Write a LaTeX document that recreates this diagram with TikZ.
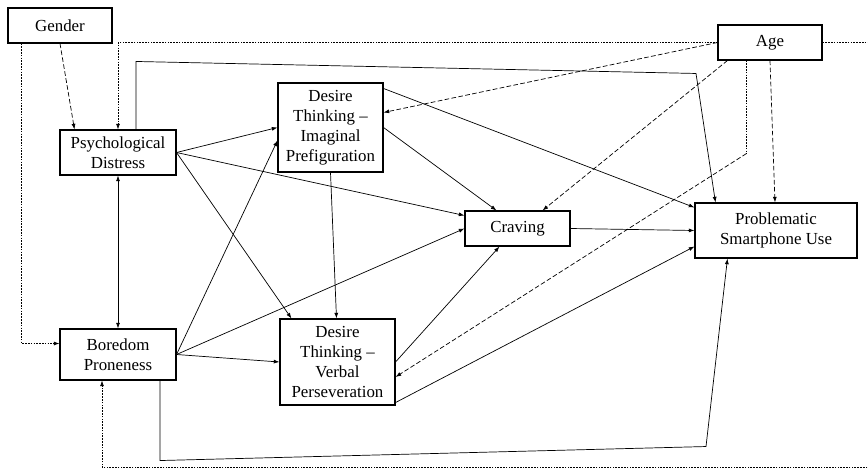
\documentclass[tikz,border=0pt]{standalone}
\usepackage{fontspec}
\setmainfont{Liberation Serif}
\usepackage{tikz}
\usetikzlibrary{arrows.meta,positioning,calc}

\tikzset{
  box/.style={draw, line width=0.9pt, align=center, inner sep=1pt,
    font=\fontsize{14.4}{17}\selectfont},
  conn/.style={-{Latex[length=1.7mm,width=1.2mm]}, line width=0.6pt},
  dconn/.style={conn, dash pattern=on 4pt off 2pt},
  tconn/.style={conn, dash pattern=on 1.4pt off 1pt},
}

\begin{document}
\begin{tikzpicture}[x=0.03cm,y=-0.03cm]
            \useasboundingbox (0,0) rectangle (868,475);
            \clip (0,0) rectangle (868,475);

            % Covariates
            \node[box, minimum width=3.12cm, minimum height=1.05cm] (gender) at (60,25.5) {Gender};
            \node[box, minimum width=3.12cm, minimum height=1.05cm] (age) at (770,42.5) {Age};

            % Predictors
            \node[box, minimum width=3.48cm, minimum height=1.35cm] (pd) at (118,152.5) {Psychological\\Distress};
            \node[box, minimum width=3.48cm, minimum height=1.53cm] (bp) at (118,354.5) {Boredom\\Proneness};

            % Desire thinking
            \node[box, minimum width=3.15cm, minimum height=2.67cm] (dtip) at (330.5,127.5) {Desire\\Thinking --\\Imaginal\\Prefiguration};
            \node[box, minimum width=3.45cm, minimum height=2.58cm] (dtvp) at (337.5,362) {Desire\\Thinking --\\Verbal\\Perseveration};

            % Outcomes
            \node[box, minimum width=3.15cm, minimum height=1.05cm] (crav) at (517.5,228.5) {Craving};
            \node[box, minimum width=4.86cm, minimum height=1.65cm] (psu) at (776,230.5) {Problematic\\Smartphone Use};

            % Gender paths
            \draw[dconn] (gender.south) -- ($(pd.north west)+(15,0)$);
            \draw[tconn] ($(gender.south west)+(14,0)$) |- ($(bp.west)+(0,-11)$);

            % Age paths
            \draw[tconn] (age.west) -| (pd.north);
            \draw[tconn] (age.east) -| ($(age.east)+(70,425)$) -| ($(bp.south)+(-16,0)$);
            \draw[dconn] (age.west) -- ($(dtip.east)+(0,-15)$);
            \draw[dconn] ($(age.south west)+(10,0)$) -- ($(crav.north)+(25,0)$);
            \draw[dash pattern=on 1.4pt off 1pt, line width=0.6pt] ($(age.south west)+(29,0)$) -- ++(0,93) coordinate (agebend);
            \draw[dconn] (agebend) -- ($(dtvp.east)+(0,15)$);
            \draw[dconn] (age.south) -- ($(psu.north)+(-1,0)$);

            % Psychological distress paths
            \draw[conn] (pd.east) -- (dtip.west);
            \draw[conn] (pd.east) -- ($(crav.west)+(0,-13)$);
            \draw[conn] (pd.east) -- ($(dtvp.north west)+(12,0)$);
            \draw[conn] ($(pd.north)+(18,0)$) -- ++(0,-68) -- ++(560,12) -- ($(psu.north west)+(21,0)$);
            \draw[conn, {Latex[length=1.7mm,width=1.2mm]}-{Latex[length=1.7mm,width=1.2mm]}] (pd.south) -- (bp.north);

            % Boredom proneness paths
            \draw[conn] (bp.east) -- ($(dtip.west)+(0,13)$);
            \draw[conn] (bp.east) -- (crav.west);
            \draw[conn] (bp.east) -- (dtvp.west);
            \draw[conn] ($(bp.south)+(42,0)$) -- ++(0,80) -- ++(546,-14) -- ($(psu.south west)+(33,0)$);

            % Desire thinking paths
            \draw[conn] (dtip.south) -- ($(dtvp.north)+(-1,0)$);
            \draw[conn] (dtip.east) -- ($(crav.north)+(-21,0)$);
            \draw[conn] ($(dtip.north east)+(0,6)$) -- ($(psu.north west)+(0,5)$);
            \draw[conn] (dtvp.east) -- ($(crav.south)+(-18,0)$);
            \draw[conn] ($(dtvp.south east)+(0,-3)$) -- ($(psu.west)+(0,16)$);

            % Craving path
            \draw[conn] (crav.east) -- (psu.west);
        \end{tikzpicture}
\end{document}
